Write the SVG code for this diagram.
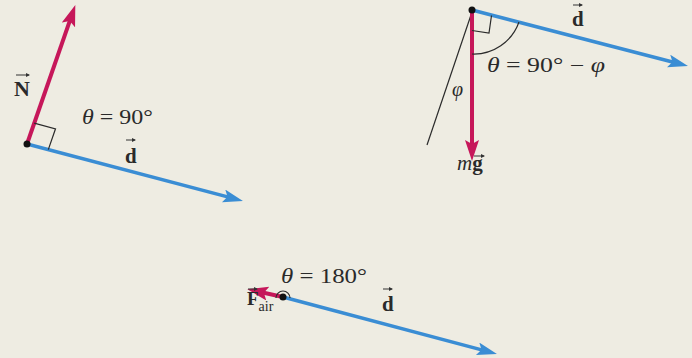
<svg xmlns="http://www.w3.org/2000/svg" width="692" height="358" viewBox="0 0 692 358">
<style>
.bg{fill:#EEECE2}
.red{stroke:#C6175A;stroke-width:4;fill:none}
.blue{stroke:#3A8DD4;stroke-width:3.5;fill:none}
.thin{stroke:#2b2b2b;stroke-width:1.2;fill:none}
.vec{stroke:#333;stroke-width:1;fill:none}
.dot{fill:#111}
text{font-family:"Liberation Serif","Times New Roman",serif;fill:#2a2a2a}
.it{font-style:italic}
.b{font-weight:bold}
.n{font-weight:normal}
</style>
<defs>
<marker id="hr" markerUnits="userSpaceOnUse" markerWidth="24" markerHeight="16" refX="10" refY="7" orient="auto">
<path d="M0,0 L21,7 L0,14 L4,7 z" fill="#C6175A"/>
</marker>
<marker id="hb" markerUnits="userSpaceOnUse" markerWidth="24" markerHeight="16" refX="10" refY="6.5" orient="auto">
<path d="M0,0 L20,6.5 L0,13 L4,6.5 z" fill="#3A8DD4"/>
</marker>
<marker id="hv" markerUnits="userSpaceOnUse" markerWidth="6" markerHeight="6" refX="3" refY="2" orient="auto">
<path d="M0,0 L4,2 L0,4 z" fill="#333"/>
</marker>
</defs>
<rect class="bg" x="0" y="0" width="692" height="358"/>

<g id="connectors">
<line class="blue" x1="27" y1="144" x2="233.3" y2="198.4" marker-end="url(#hb)"/>
<line class="red" x1="27" y1="144" x2="71.7" y2="15.4" marker-end="url(#hr)"/>
<line class="thin" x1="472" y1="12" x2="427" y2="145"/>
<line class="blue" x1="472" y1="10" x2="678.3" y2="63.5" marker-end="url(#hb)"/>
<line class="red" x1="472" y1="10" x2="472" y2="150" marker-end="url(#hr)"/>
<line class="blue" x1="283" y1="297" x2="487.3" y2="351.4" marker-end="url(#hb)"/>
<line class="red" x1="283" y1="297" x2="258" y2="291.5" marker-end="url(#hr)"/>
</g>

<g id="panel1">
<polyline class="thin" points="34.2,123.2 55.5,128.8 48.3,149.6"/>
<circle class="dot" cx="27" cy="144" r="3.5"/>
<text class="b" x="14" y="96" font-size="22">N</text>
<line class="vec" x1="16" y1="75" x2="29" y2="75" marker-end="url(#hv)"/>
<text x="82" y="124" font-size="21" textLength="71" lengthAdjust="spacingAndGlyphs"><tspan class="it">θ</tspan> = 90°</text>
<text class="b" x="125" y="163" font-size="21">d</text>
<line class="vec" x1="126" y1="140" x2="135" y2="140" marker-end="url(#hv)"/>
</g>

<g id="panel2">
<polyline class="thin" points="491.5,15.5 489,33 472,30.5"/>
<path class="thin" d="M472,54 A48,48 0 0 0 519,22"/>
<circle class="dot" cx="472" cy="10" r="3.5"/>
<text class="b" x="572" y="26" font-size="21">d</text>
<line class="vec" x1="573" y1="5" x2="582" y2="5" marker-end="url(#hv)"/>
<text x="487" y="72" font-size="20" textLength="118" lengthAdjust="spacingAndGlyphs"><tspan class="it">θ</tspan> = 90° − <tspan class="it">φ</tspan></text>
<text class="it" x="452" y="96" font-size="20">φ</text>
<text x="457" y="170" font-size="21"><tspan class="it">m</tspan><tspan class="b">g</tspan></text>
<line class="vec" x1="474" y1="156" x2="484" y2="156" marker-end="url(#hv)"/>
</g>

<g id="panel3">
<path class="thin" d="M276,298 A7,7 0 0 1 290,298"/>
<circle class="dot" cx="283" cy="297" r="3.5"/>
<text x="281" y="283" font-size="20" textLength="86" lengthAdjust="spacingAndGlyphs"><tspan class="it">θ</tspan> = 180°</text>
<text x="247" y="305" font-size="19"><tspan class="b">F</tspan><tspan class="n" font-size="14" dy="6">air</tspan></text>
<line class="vec" x1="248" y1="289" x2="257" y2="289" marker-end="url(#hv)"/>
<text class="b" x="382" y="311" font-size="21">d</text>
<line class="vec" x1="383" y1="289" x2="392" y2="289" marker-end="url(#hv)"/>
</g>
</svg>
